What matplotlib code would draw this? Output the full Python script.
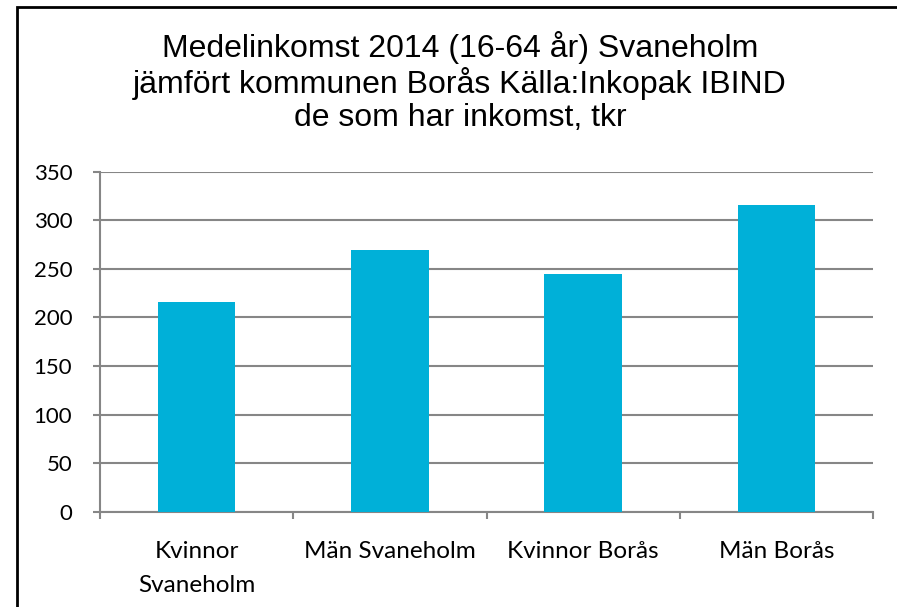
import matplotlib.pyplot as plt
from matplotlib.patches import Rectangle
import numpy as np

# Medelinkomst 2014, tkr
categories = ['Kvinnor\nSvaneholm', 'Män Svaneholm', 'Kvinnor Borås', 'Män Borås']
income = [216, 269, 245, 316]
y_ticks = [0, 50, 100, 150, 200, 250, 300, 350]

title = ('Medelinkomst 2014 (16-64 år) Svaneholm\n'
         'jämfört kommunen Borås Källa:Inkopak IBIND\n'
         'de som har inkomst, tkr')

W, H = 897, 607
fig = plt.figure(figsize=(W / 100, H / 100), dpi=100)
ax = fig.add_axes([100 / W, (H - 512) / H, (873 - 100) / W, (512 - 171.5) / H])

x = np.arange(len(categories))
ax.bar(x, income, width=0.4, color='#00B0D8', zorder=3)

ax.set_xlim(-0.5, len(categories) - 0.5)
ax.set_ylim(0, 350)
ax.set_yticks(y_ticks)
ax.set_xticks(x)
ax.set_xticklabels(categories)
ax.set_xticks(np.arange(len(categories) + 1) - 0.5, minor=True)

grey = '#868686'
ax.yaxis.grid(True, color=grey, linewidth=1.5, zorder=0)
for s in ['top', 'right']:
    ax.spines[s].set_visible(False)
for s in ['left', 'bottom']:
    ax.spines[s].set_color(grey)
    ax.spines[s].set_linewidth(1.5)

tick_font = 'Lato'
ax.tick_params(axis='y', direction='out', length=5, width=1.5, color=grey,
               pad=15, labelsize=16, labelcolor='black')
ax.tick_params(axis='x', which='major', length=0, pad=21, labelsize=17.5)
ax.tick_params(axis='x', which='minor', direction='out', length=5, width=1.5, color=grey)
for lab in ax.get_xticklabels() + ax.get_yticklabels():
    lab.set_fontfamily(tick_font)
for lab in ax.get_xticklabels():
    lab.set_linespacing(1.78)

fig.text(460 / W, (H - 82) / H, title, ha='center', va='center',
         fontsize=23, family='Liberation Sans', linespacing=1.12)

# outer chart border
fig.patches.append(Rectangle((17 / W, -0.05), 1.0, (H - 7) / H + 0.05,
                             transform=fig.transFigure, fill=False,
                             edgecolor='black', linewidth=2))

fig.savefig('out.png', dpi=100)
